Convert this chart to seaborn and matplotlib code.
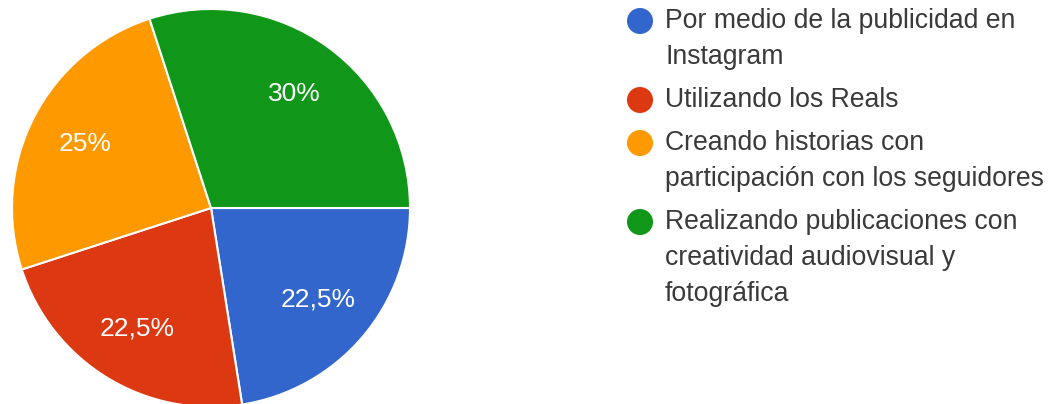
import matplotlib
matplotlib.use("Agg")
import matplotlib.pyplot as plt
import seaborn as sns

# Survey answers and their shares (%)
categories = [
    "Por medio de la publicidad en\nInstagram",
    "Utilizando los Reals",
    "Creando historias con\nparticipación con los seguidores",
    "Realizando publicaciones con\ncreatividad audiovisual y\nfotográfica",
]
shares = [22.5, 22.5, 25, 30]
share_labels = ["22,5%", "22,5%", "25%", "30%"]
colors = ["#3366CC", "#DC3912", "#FF9900", "#109618"]

sns.set_theme(style="white")
plt.rcParams["font.family"] = ["Liberation Sans", "DejaVu Sans"]
palette = sns.color_palette(colors)

W, H, DPI = 1052, 404, 100
fig = plt.figure(figsize=(W / DPI, H / DPI), dpi=DPI)
fig.patch.set_facecolor("white")

# Pie axes, placed in pixel units (center ~ (211, 208) from top, radius ~199 px)
cx, cy_top, r = 211, 208, 199
cy = H - cy_top
ax = fig.add_axes([(cx - r) / W, (cy - r) / H, 2 * r / W, 2 * r / H])
wedges, texts, autotexts = ax.pie(
    shares,
    colors=palette,
    startangle=0,
    counterclock=False,
    autopct=lambda p: "",
    pctdistance=0.71,
    wedgeprops=dict(edgecolor="white", linewidth=1.5),
)
for t, lab in zip(autotexts, share_labels):
    t.set_text(lab)
    t.set_color("white")
    t.set_fontsize(19)
ax.set_xlim(-1, 1)
ax.set_ylim(-1, 1)
ax.set_aspect("equal")
ax.axis("off")

# Legend drawn in a pixel-coordinate overlay
lg = fig.add_axes([0, 0, 1, 1])
lg.set_xlim(0, W)
lg.set_ylim(H, 0)
lg.axis("off")
lg.patch.set_alpha(0)

x_dot, x_text = 640, 665
y = 21
line_step, item_gap = 36, 43
for label, col in zip(categories, palette):
    lg.scatter([x_dot], [y], s=26 ** 2 * 0.52, color=col, edgecolors="none")
    lines = label.split("\n")
    for i, line in enumerate(lines):
        lg.text(x_text, y + i * line_step, line, va="center", ha="left",
                fontsize=19.2, color="#3a3a3a")
    y += (len(lines) - 1) * line_step + item_gap

fig.savefig("out.png", dpi=DPI, facecolor="white")
